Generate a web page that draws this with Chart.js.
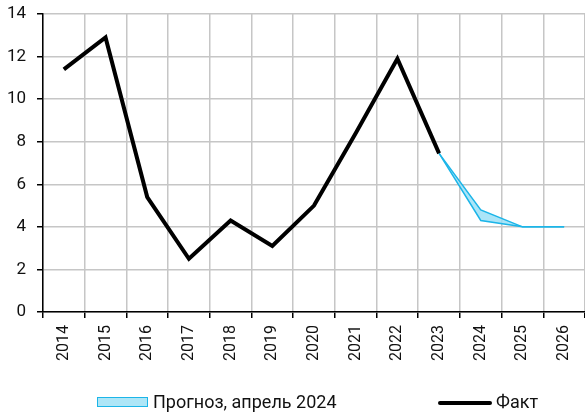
<!DOCTYPE html>
<html>
<head>
<meta charset="utf-8">
<script src="https://cdn.jsdelivr.net/npm/chart.js@4/dist/chart.umd.min.js"></script>
<style>
  html, body { margin: 0; padding: 0; background: #fff; }
  #wrap { position: relative; width: 585px; height: 420px; font-family: Roboto, sans-serif; }
  #legend { position: absolute; left: 0; top: 0; width: 585px; height: 420px; pointer-events: none; }
  .lg-box { position: absolute; left: 97px; top: 397px; width: 49px; height: 8px; background: #aee6f7; border: 1.5px solid #1cb5e8; }
  .lg-line { position: absolute; left: 438px; top: 401px; width: 54px; height: 4px; background: #000; border-radius: 2px; }
  .lg-text { position: absolute; top: 392px; font-size: 18px; color: #111; line-height: 20px; white-space: nowrap; }
</style>
</head>
<body>
<div id="wrap">
  <canvas id="myChart" width="585" height="420"></canvas>
  <div id="legend">
    <div class="lg-box"></div>
    <div class="lg-text" style="left:153px">Прогноз, апрель 2024</div>
    <div class="lg-line"></div>
    <div class="lg-text" style="left:496px">Факт</div>
  </div>
</div>
<script>
var years = ["2014", "2015", "2016", "2017", "2018", "2019", "2020", "2021", "2022", "2023", "2024", "2025", "2026"];
var fact = [11.4, 12.9, 5.4, 2.5, 4.3, 3.1, 5.0, 8.4, 11.9, 7.45, null, null, null];
var forecastHigh = [null, null, null, null, null, null, null, null, null, 7.45, 4.8, 4.0, 4.0];
var forecastLow = [null, null, null, null, null, null, null, null, null, 7.45, 4.3, 4.0, 4.0];
var yTicks = [0, 2, 4, 6, 8, 10, 12, 14];

var ctx = document.getElementById('myChart').getContext('2d');
var chart = new Chart(ctx, {
    type: 'line',
    data: {
        labels: years,
        datasets: [
            {
                label: "Прогноз, апрель 2024 (верх)",
                data: forecastHigh,
                borderColor: "#1cb5e8",
                borderWidth: 1.5,
                pointRadius: 0,
                tension: 0,
                fill: false,
                order: 2
            },
            {
                label: "Прогноз, апрель 2024",
                data: forecastLow,
                borderColor: "#1cb5e8",
                borderWidth: 1.5,
                backgroundColor: "rgba(150, 222, 246, 0.8)",
                pointRadius: 0,
                tension: 0,
                fill: '-1',
                order: 2
            },
            {
                label: "Факт",
                data: fact,
                borderColor: "#000",
                borderWidth: 4,
                borderJoinStyle: 'miter',
                pointRadius: 0,
                tension: 0,
                fill: false,
                order: 1
            }
        ]
    },
    options: {
        responsive: false,
        animation: false,
        layout: { padding: { top: 14, right: 0, bottom: 30, left: 0 } },
        plugins: {
            legend: { display: false },
            tooltip: { enabled: false }
        },
        scales: {
            x: {
                offset: true,
                grid: { offset: true, color: "#c6c6c6", lineWidth: 1.5, tickColor: "#000", tickLength: 6 },
                border: { color: "#000", width: 1.5 },
                ticks: {
                    minRotation: 90, maxRotation: 90, padding: 7,
                    color: "#111", font: { family: "Roboto", size: 16 }
                },
                afterFit: function (s) { s.height = 78; s.paddingLeft = 0; s.paddingRight = 0; }
            },
            y: {
                min: 0,
                max: 14,
                afterBuildTicks: function (s) { s.ticks = yTicks.map(function (v) { return { value: v }; }); },
                grid: { color: "#c6c6c6", lineWidth: 1.5, tickColor: "#000", tickLength: 6 },
                border: { color: "#000", width: 1.5 },
                ticks: { padding: 11, color: "#111", font: { family: "Roboto", size: 17 } },
                afterFit: function (s) { s.width = 43; s.paddingTop = 0; s.paddingBottom = 0; }
            }
        }
    }
});
</script>
</body>
</html>
